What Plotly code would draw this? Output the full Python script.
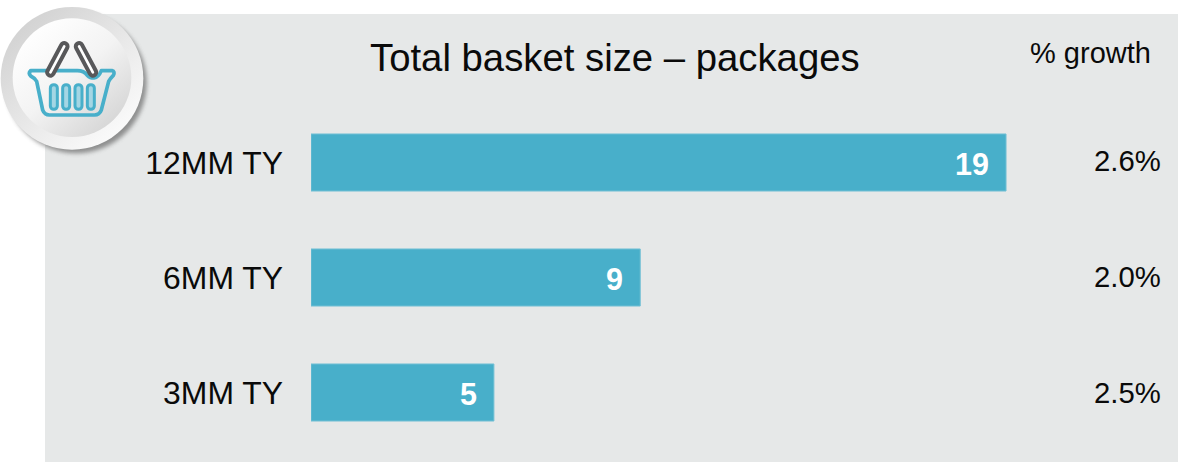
import base64
import plotly.graph_objects as go

# Chart data
periods = ["12MM TY", "6MM TY", "3MM TY"]
basket_size = [19, 9, 5]
growth_labels = ["2.6%", "2.0%", "2.5%"]
title_text = "Total basket size – packages"
growth_header = "% growth"

W, H = 1178, 462
FONT = "Liberation Sans, Arial, sans-serif"
TEAL = "#48afca"
PANEL = "#e6e8e8"
PX_PER_UNIT = 36.58
BAR_LEFT = 311
ROW_PITCH = 115
FIRST_ROW = 162.5

# Badge with the shopping basket, in a 510-unit square
BASKET_SVG = """<svg xmlns="http://www.w3.org/2000/svg" width="510" height="510" viewBox="0 0 510 510">
<defs>
<linearGradient id="ring" x1="0.15" y1="0.1" x2="0.85" y2="0.9">
<stop offset="0" stop-color="#d2d2d2"/><stop offset="0.55" stop-color="#e9e9e9"/><stop offset="1" stop-color="#fbfbfb"/>
</linearGradient>
<linearGradient id="face" x1="0.15" y1="0.1" x2="0.85" y2="0.9">
<stop offset="0" stop-color="#ffffff"/><stop offset="0.5" stop-color="#f3f3f3"/><stop offset="1" stop-color="#d6d6d6"/>
</linearGradient>
<filter id="soft" x="-20%" y="-20%" width="140%" height="140%"><feGaussianBlur stdDeviation="7"/></filter>
</defs>
<circle cx="228" cy="248" r="212" fill="#555555" opacity="0.6" filter="url(#soft)"/>
<circle cx="216" cy="235" r="214" fill="url(#ring)"/>
<circle cx="216" cy="233" r="178" fill="url(#face)"/>
<path d="M92 212 H232 Q252 212 262 226 Q270 234 282 234 Q296 232 304 212 H336 Q346 214 340 226 Q330 236 326 244 L304 330 Q298 345 284 345 H148 Q134 345 128 330 L110 244 Q104 234 92 228 Q84 220 92 212 Z" fill="none" stroke="#48afca" stroke-width="11" stroke-linejoin="round"/>
<g fill="#a4d6e4" stroke="#48afca" stroke-width="9">
<rect x="151" y="254" width="21" height="74" rx="10"/>
<rect x="188" y="254" width="21" height="74" rx="10"/>
<rect x="225" y="254" width="21" height="74" rx="10"/>
<rect x="262" y="254" width="21" height="74" rx="10"/>
</g>
<g fill="#ffffff" stroke="#58585a" stroke-width="12">
<rect x="-10" y="-54" width="20" height="108" rx="10" transform="translate(172 178) rotate(28)"/>
<rect x="-10" y="-54" width="20" height="108" rx="10" transform="translate(258 178) rotate(-28)"/>
</g>
</svg>"""
badge_uri = "data:image/svg+xml;base64," + base64.b64encode(BASKET_SVG.encode()).decode()

fig = go.Figure(
    go.Bar(
        x=basket_size,
        y=periods,
        orientation="h",
        marker=dict(color=TEAL, line=dict(color="#72c0d5", width=1)),
        hoverinfo="skip",
    )
)

# Value labels sit just inside the end of each bar
for period, value in zip(periods, basket_size):
    fig.add_annotation(
        x=value, xref="x", xanchor="right", xshift=-15,
        y=period, yref="y", yanchor="middle", yshift=-1,
        text=f"<b>{value}</b>", showarrow=False,
        font=dict(family=FONT, size=30.5, color="white"),
    )

# Growth column, one label per row
for period, label, nudge in zip(periods, growth_labels, (2, 1, 0)):
    fig.add_annotation(
        x=1163 / W, xref="paper", xanchor="right",
        y=period, yref="y", yanchor="middle", yshift=nudge,
        text=label, showarrow=False,
        font=dict(family=FONT, size=29.3, color="#0a0a0a"),
    )

fig.add_annotation(
    x=615 / W, xref="paper", xanchor="center",
    y=1 - 58 / H, yref="paper", yanchor="middle",
    text=title_text, showarrow=False,
    font=dict(family=FONT, size=38.3, color="#0a0a0a"),
)
fig.add_annotation(
    x=1090.5 / W, xref="paper", xanchor="center",
    y=1 - 53 / H, yref="paper", yanchor="middle",
    text=growth_header, showarrow=False,
    font=dict(family=FONT, size=29, color="#0a0a0a"),
)

fig.update_layout(
    width=W,
    height=H,
    margin=dict(l=0, r=0, t=0, b=0),
    paper_bgcolor="white",
    plot_bgcolor="rgba(0,0,0,0)",
    showlegend=False,
    bargap=0.504,
    shapes=[
        dict(type="rect", xref="paper", yref="paper", layer="below",
             x0=45 / W, x1=1, y0=0, y1=1 - 14 / H,
             fillcolor=PANEL, line=dict(width=0)),
    ],
    images=[
        dict(source=badge_uri, xref="paper", yref="paper",
             x=0, y=1, sizex=170 / W, sizey=170 / H,
             xanchor="left", yanchor="top", sizing="stretch", layer="above"),
    ],
)
fig.update_xaxes(
    domain=[BAR_LEFT / W, 1],
    range=[0, (W - BAR_LEFT) / PX_PER_UNIT],
    visible=False,
)
fig.update_yaxes(
    type="category",
    categoryorder="array",
    categoryarray=periods,
    range=[(H - FIRST_ROW) / ROW_PITCH, -FIRST_ROW / ROW_PITCH],
    showgrid=False,
    zeroline=False,
    showline=False,
    ticks="",
    ticklabelstandoff=27,
    tickfont=dict(family=FONT, size=31.9, color="#0a0a0a"),
)

fig.write_html("out.html")
